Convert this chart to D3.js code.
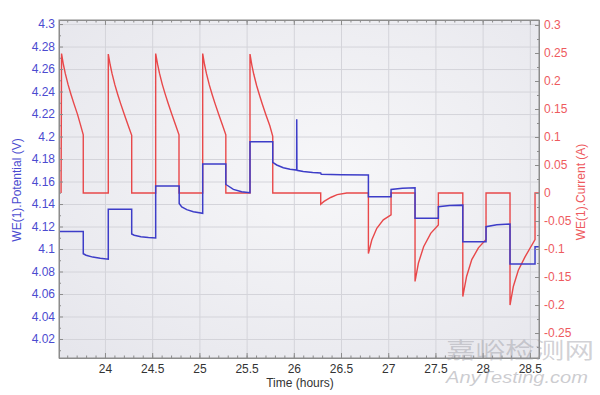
<!DOCTYPE html>
<html>
<head>
<meta charset="utf-8">
<script src="https://cdn.jsdelivr.net/npm/d3@7"></script>
<style>
  body { margin: 0; background: #fff; }
  text { font-family: "Liberation Sans", Arial, sans-serif; }
</style>
</head>
<body>
<script>
//Data: time (hours) and current (A)
var curTime = [23.535, 23.54, 23.56, 23.58, 23.61, 23.64, 23.67, 23.71, 23.74, 23.77, 23.77,
  24.035, 24.035, 24.055, 24.075, 24.105, 24.135, 24.165, 24.205, 24.245, 24.283, 24.283,
  24.537, 24.537, 24.557, 24.577, 24.607, 24.637, 24.667, 24.707, 24.747, 24.784, 24.784,
  25.035, 25.035, 25.055, 25.075, 25.105, 25.135, 25.165, 25.205, 25.245, 25.28, 25.28,
  25.536, 25.536, 25.556, 25.576, 25.606, 25.636, 25.666, 25.706, 25.746, 25.777, 25.777,
  26.285, 26.285, 26.32, 26.39, 26.46, 26.56,
  26.79, 26.79, 26.826, 26.879, 26.948, 27.03, 27.03,
  27.284, 27.284, 27.32, 27.375, 27.45, 27.531, 27.531,
  27.79, 27.79, 27.83, 27.885, 27.955, 28.036, 28.036,
  28.29, 28.29, 28.325, 28.378, 28.449, 28.555, 28.555, 28.6];
var curVal = [0, 0.249, 0.229, 0.213, 0.193, 0.176, 0.160, 0.140, 0.122, 0.104, 0,
  0, 0.248, 0.229, 0.213, 0.193, 0.176, 0.160, 0.140, 0.121, 0.103, 0,
  0, 0.249, 0.230, 0.214, 0.194, 0.177, 0.161, 0.141, 0.122, 0.104, 0,
  0, 0.249, 0.229, 0.213, 0.193, 0.176, 0.160, 0.140, 0.121, 0.104, 0,
  0, 0.248, 0.228, 0.212, 0.192, 0.175, 0.159, 0.139, 0.120, 0.101, 0,
  0, -0.02, -0.015, -0.008, -0.003, 0,
  0, -0.108, -0.084, -0.063, -0.048, -0.039, 0,
  0, -0.158, -0.125, -0.096, -0.072, -0.057, 0,
  0, -0.185, -0.149, -0.119, -0.098, -0.083, 0,
  0, -0.2, -0.167, -0.138, -0.114, -0.083, 0, 0];

//Time (hours) and potential (V)
var potTime = [23.513, 23.514, 23.77, 23.77, 23.80, 23.87, 23.95, 24.035,
  24.035, 24.283, 24.283, 24.31, 24.38, 24.46, 24.537,
  24.537, 24.786, 24.786, 24.813, 24.866, 24.936, 25.035,
  25.035, 25.28, 25.28, 25.29, 25.36, 25.448, 25.536,
  25.536, 25.777, 25.777, 25.819, 25.889, 25.96, 26.030, 26.031, 26.033,
  26.10, 26.20, 26.285, 26.29, 26.5, 26.79,
  26.79, 27.03, 27.03, 27.15, 27.284,
  27.284, 27.531, 27.531, 27.65, 27.79,
  27.79, 28.036, 28.036, 28.15, 28.29,
  28.29, 28.555, 28.555, 28.6];
var potVal = [4.068, 4.1155, 4.1155, 4.0958, 4.0945, 4.0928, 4.0917, 4.0910,
  4.1353, 4.1353, 4.1133, 4.1122, 4.1110, 4.1103, 4.1098,
  4.1560, 4.1560, 4.1405, 4.1375, 4.1350, 4.1332, 4.1317,
  4.1756, 4.1756, 4.1575, 4.1569, 4.1530, 4.1509, 4.1500,
  4.1954, 4.1954, 4.1770, 4.1747, 4.1723, 4.1709, 4.1702, 4.2153, 4.1700,
  4.1690, 4.1680, 4.1675, 4.1665, 4.1660, 4.1658,
  4.1465, 4.1465, 4.1530, 4.1540, 4.1545,
  4.1273, 4.1273, 4.1376, 4.1386, 4.1390,
  4.1065, 4.1065, 4.1198, 4.1215, 4.1222,
  4.0867, 4.0867, 4.1020, 4.1020];

//Tick labels
var xTicks = [24, 24.5, 25, 25.5, 26, 26.5, 27, 27.5, 28, 28.5];
var leftTicks = [4.02, 4.04, 4.06, 4.08, 4.1, 4.12, 4.14, 4.16, 4.18, 4.2, 4.22, 4.24, 4.26, 4.28, 4.3];
var rightTicks = [-0.25, -0.2, -0.15, -0.1, -0.05, 0, 0.05, 0.1, 0.15, 0.2, 0.25, 0.3];

var width = 600, height = 395;
var plot = {left: 59, right: 539, top: 20, bottom: 358};
var blue = "#3d3dc8", red = "#e8484a";

var svg = d3.select("body")
  .append("svg")
    .attr("width", width)
    .attr("height", height);

//Scales
var xScale = d3.scaleLinear().domain([23.513, 28.597]).range([plot.left, plot.right]);
var yLeft = d3.scaleLinear().domain([4.0031, 4.3036]).range([plot.bottom, plot.top]);
var yRight = d3.scaleLinear().domain([-0.2946, 0.3089]).range([plot.bottom, plot.top]);

//Plot background
var defs = svg.append("defs");
var grad = defs.append("radialGradient").attr("id", "bg")
  .attr("cx", "55%").attr("cy", "45%").attr("r", "75%");
grad.append("stop").attr("offset", "0%").attr("stop-color", "#f7f7f9");
grad.append("stop").attr("offset", "100%").attr("stop-color", "#e6e6ec");
defs.append("clipPath").attr("id", "clip")
  .append("rect")
    .attr("x", plot.left).attr("y", plot.top)
    .attr("width", plot.right - plot.left).attr("height", plot.bottom - plot.top);

svg.append("rect")
  .attr("x", plot.left).attr("y", plot.top)
  .attr("width", plot.right - plot.left).attr("height", plot.bottom - plot.top)
  .attr("fill", "url(#bg)");

//Grid lines
svg.append("g")
  .attr("class", "grid")
  .attr("transform", "translate(0," + plot.bottom + ")")
  .call(d3.axisBottom(xScale).tickValues(xTicks).tickSize(-(plot.bottom - plot.top)).tickFormat(""));
svg.append("g")
  .attr("class", "grid")
  .attr("transform", "translate(" + plot.left + ",0)")
  .call(d3.axisLeft(yLeft).tickValues(leftTicks).tickSize(-(plot.right - plot.left)).tickFormat(""));
svg.selectAll(".grid .domain").remove();
svg.selectAll(".grid line").attr("stroke", "#d4d4da").attr("stroke-width", 1);

//Lines
var curData = curTime.map(function(t, i) { return [t, curVal[i]]; });
var potData = potTime.map(function(t, i) { return [t, potVal[i]]; });

svg.append("path")
  .datum(curData)
  .attr("clip-path", "url(#clip)")
  .attr("fill", "none")
  .attr("stroke", red)
  .attr("stroke-width", 1.4)
  .attr("d", d3.line().x(function(d) { return xScale(d[0]); }).y(function(d) { return yRight(d[1]); }));

svg.append("path")
  .datum(potData)
  .attr("clip-path", "url(#clip)")
  .attr("fill", "none")
  .attr("stroke", blue)
  .attr("stroke-width", 1.5)
  .attr("d", d3.line().x(function(d) { return xScale(d[0]); }).y(function(d) { return yLeft(d[1]); }));

//Axes with inward ticks
var fmt = function(d) { return String(d); };
var xMinor = d3.range(23.6, 28.6, 0.1);

var gx = svg.append("g").attr("class", "axis")
  .attr("transform", "translate(0," + plot.bottom + ")")
  .call(d3.axisBottom(xScale).tickValues(xTicks).tickSize(-5).tickPadding(6).tickFormat(fmt));
svg.append("g").attr("class", "axis")
  .attr("transform", "translate(0," + plot.bottom + ")")
  .call(d3.axisBottom(xScale).tickValues(xMinor).tickSize(-2.5).tickFormat(""));
svg.append("g").attr("class", "axis")
  .attr("transform", "translate(0," + plot.top + ")")
  .call(d3.axisTop(xScale).tickValues(xTicks).tickSize(-5).tickFormat(""));
svg.append("g").attr("class", "axis")
  .attr("transform", "translate(0," + plot.top + ")")
  .call(d3.axisTop(xScale).tickValues(xMinor).tickSize(-2.5).tickFormat(""));

var gl = svg.append("g").attr("class", "axis")
  .attr("transform", "translate(" + plot.left + ",0)")
  .call(d3.axisLeft(yLeft).tickValues(leftTicks).tickSize(-4).tickPadding(4).tickFormat(fmt));
svg.append("g").attr("class", "axis")
  .attr("transform", "translate(" + plot.left + ",0)")
  .call(d3.axisLeft(yLeft).tickValues(d3.range(4.01, 4.3, 0.02)).tickSize(-2).tickFormat(""));

var gr = svg.append("g").attr("class", "axis")
  .attr("transform", "translate(" + plot.right + ",0)")
  .call(d3.axisRight(yRight).tickValues(rightTicks).tickSize(-4).tickPadding(5).tickFormat(fmt));
svg.append("g").attr("class", "axis")
  .attr("transform", "translate(" + plot.right + ",0)")
  .call(d3.axisRight(yRight).tickValues(d3.range(-0.275, 0.3, 0.05)).tickSize(-2).tickFormat(""));

svg.selectAll(".axis .domain").attr("stroke", "#8c8c8c");
svg.selectAll(".axis line").attr("stroke", "#8c8c8c");
svg.selectAll(".axis text").style("font-size", "12px").style("font-family", "\"Liberation Sans\", Arial, sans-serif");
gx.selectAll("text").attr("fill", "#333");
gl.selectAll("text").attr("fill", "#4b4bd0");
gr.selectAll("text").attr("fill", "#ee5a5e");

//Frame
svg.append("rect")
  .attr("x", plot.left).attr("y", plot.top)
  .attr("width", plot.right - plot.left).attr("height", plot.bottom - plot.top)
  .attr("fill", "none").attr("stroke", "#8c8c8c");

//Axis titles
svg.append("text")
  .attr("transform", "translate(21,190) rotate(-90)")
  .attr("text-anchor", "middle")
  .attr("fill", "#4b4bd0")
  .style("font-size", "12px")
  .text("WE(1).Potential (V)");
svg.append("text")
  .attr("transform", "translate(585,192) rotate(-90)")
  .attr("text-anchor", "middle")
  .attr("fill", "#ee5a5e")
  .style("font-size", "12px")
  .text("WE(1).Current (A)");
svg.append("text")
  .attr("x", 300).attr("y", 387)
  .attr("text-anchor", "middle")
  .attr("fill", "#333")
  .style("font-size", "12px")
  .text("Time (hours)");

//Watermark
svg.append("text")
  .attr("x", 446).attr("y", 358)
  .attr("textLength", 148).attr("lengthAdjust", "spacingAndGlyphs")
  .attr("fill", "#9a9aa2").attr("fill-opacity", 0.45)
  .style("font-size", "22px")
  .style("font-family", "\"Noto Sans CJK SC\", sans-serif")
  .text("嘉峪检测网");
svg.append("text")
  .attr("x", 446).attr("y", 383)
  .attr("textLength", 142).attr("lengthAdjust", "spacingAndGlyphs")
  .attr("fill", "#9a9aa2").attr("fill-opacity", 0.5)
  .style("font-size", "17px")
  .style("font-style", "italic")
  .text("AnyTesting.com");
</script>
</body>
</html>
